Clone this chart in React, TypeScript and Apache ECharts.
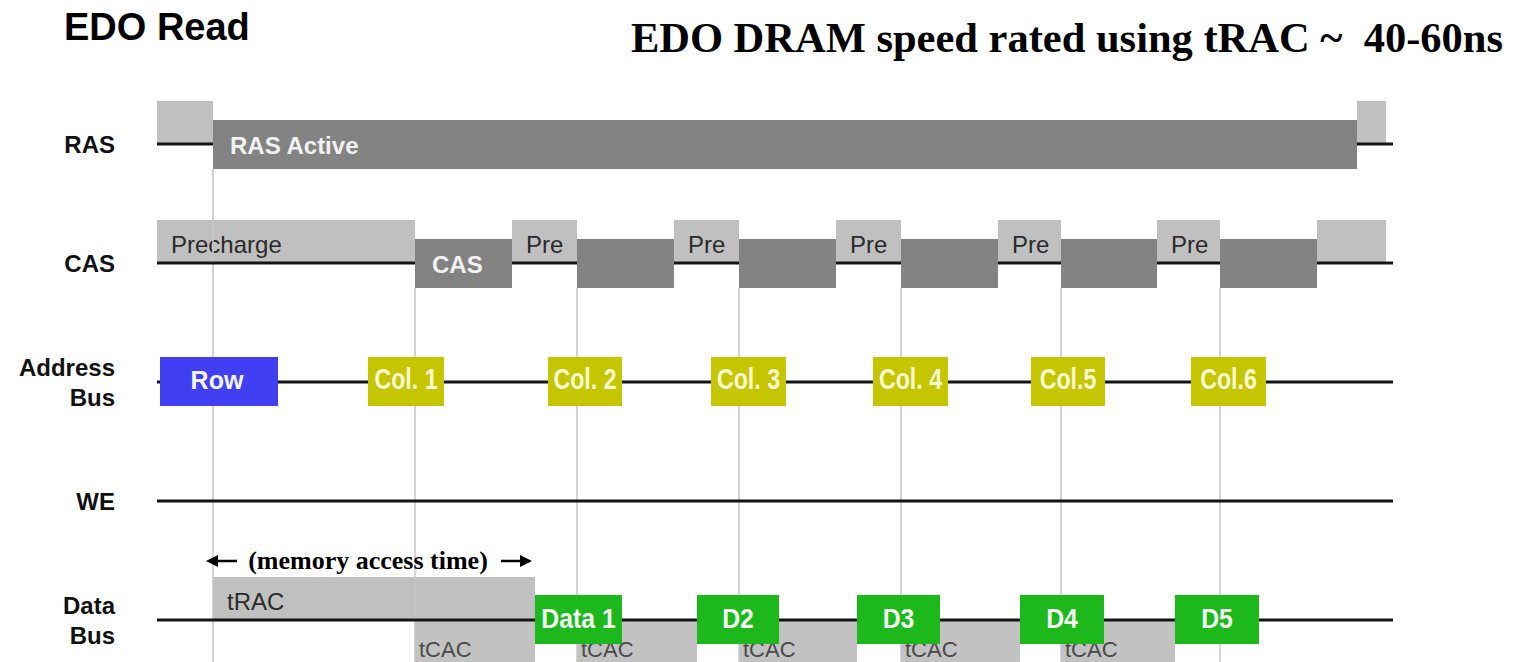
import React, { useEffect, useRef } from "react";
import * as echarts from "echarts";

// Signal rows (top to bottom)
const SIGNALS = ["RAS", "CAS", "Address\nBus", "WE", "Data\nBus"];
// time span of the diagram (arbitrary time units)
const T_END = 1236;

// [start, end, level, label]
const RAS_SEGMENTS: [number, number, string, string][] = [
  [0, 56, "high", ""],
  [56, 1200, "low", "RAS Active"],
  [1200, 1229, "high", ""],
];
const CAS_SEGMENTS: [number, number, string, string][] = [
  [0, 258, "high", "Precharge"],
  [258, 355, "low", "CAS"],
  [355, 420, "high", "Pre"],
  [420, 517, "low", ""],
  [517, 582, "high", "Pre"],
  [582, 679, "low", ""],
  [679, 744, "high", "Pre"],
  [744, 841, "low", ""],
  [841, 904, "high", "Pre"],
  [904, 1000, "low", ""],
  [1000, 1063, "high", "Pre"],
  [1063, 1160, "low", ""],
  [1160, 1229, "high", ""],
];
// [start, end, label]
const ADDRESS_ROW: [number, number, string][] = [[3, 121, "Row"]];
const ADDRESS_COLS: [number, number, string][] = [
  [211, 287, "Col. 1"],
  [391, 465, "Col. 2"],
  [554, 629, "Col. 3"],
  [716, 791, "Col. 4"],
  [874, 948, "Col.5"],
  [1034, 1109, "Col.6"],
];
const DATA_TRAC: [number, number, string][] = [[56, 378, "tRAC"]];
const DATA_TCAC: [number, number, string][] = [
  [258, 378, "tCAC"],
  [420, 540, "tCAC"],
  [582, 700, "tCAC"],
  [744, 863, "tCAC"],
  [904, 1018, "tCAC"],
];
const DATA_WORDS: [number, number, string][] = [
  [378, 465, "Data 1"],
  [540, 622, "D2"],
  [700, 783, "D3"],
  [863, 947, "D4"],
  [1018, 1102, "D5"],
];
// [time, row the guide starts below]
const GUIDES: [number, number][] = [
  [56, 0],
  [258, 1],
  [420, 1],
  [582, 1],
  [744, 1],
  [904, 1],
  [1063, 1],
];
// [start, end, row, text]
const NOTES: [number, number, number, string][] = [[56, 378, 4, "(memory access time)"]];

type Mark = { row: number; t0: number; t1: number; kind: string; label: string };

const SANS = "'Liberation Sans', Arial, sans-serif";
const SERIF = "'Liberation Serif', 'Times New Roman', serif";

const COLORS: Record<string, string> = {
  high: "#c0c0c0",
  below: "#c2c2c2",
  low: "#838383",
  addrRow: "#4040f2",
  addrCol: "#c6c600",
  data: "#1cb81c",
};

function buildMarks(): { light: Mark[]; dark: Mark[] } {
  const light: Mark[] = [];
  const dark: Mark[] = [];
  const push = (row: number, t0: number, t1: number, kind: string, label: string) => {
    const m = { row, t0, t1, kind, label };
    if (kind === "high" || kind === "below") light.push(m);
    else dark.push(m);
  };
  RAS_SEGMENTS.forEach(([a, b, k, l]) => push(0, a, b, k, l));
  CAS_SEGMENTS.forEach(([a, b, k, l]) => push(1, a, b, k, l));
  ADDRESS_ROW.forEach(([a, b, l]) => push(2, a, b, "addrRow", l));
  ADDRESS_COLS.forEach(([a, b, l]) => push(2, a, b, "addrCol", l));
  DATA_TRAC.forEach(([a, b, l]) => push(4, a, b, "high", l));
  DATA_TCAC.forEach(([a, b, l]) => push(4, a, b, "below", l));
  DATA_WORDS.forEach(([a, b, l]) => push(4, a, b, "data", l));
  return { light, dark };
}

function markRender(list: Mark[]) {
  return (params: any, api: any) => {
    const m = list[params.dataIndex];
    const [x0, y] = api.coord([m.t0, m.row]);
    const [x1] = api.coord([m.t1, m.row]);
    const w = x1 - x0;
    let top = y - 24;
    let h = 49;
    if (m.kind === "high") {
      top = y - 43;
      h = 43;
    } else if (m.kind === "below") {
      top = y;
      h = 46;
    } else if (m.kind !== "low") {
      top = y - 25;
      h = 49;
    }
    const children: any[] = [
      { type: "rect", shape: { x: x0, y: top, width: w, height: h }, style: { fill: COLORS[m.kind] } },
    ];
    if (m.label) {
      let px = x0;
      let py = y;
      let sx = 1;
      let style: any;
      if (m.kind === "high") {
        px = x0 + 14;
        py = y - 19;
        style = { fill: "#2b2b2b", fontSize: 24, fontFamily: SANS, align: "left" };
      } else if (m.kind === "below") {
        px = x0 + 4;
        py = y + 29;
        style = { fill: "#4a4a4a", fontSize: 22, fontFamily: SANS, align: "left" };
      } else if (m.kind === "low") {
        px = x0 + 17;
        py = y + 1;
        style = { fill: "#f2f2f2", fontSize: 24, fontWeight: "bold", fontFamily: SANS, align: "left" };
      } else if (m.kind === "addrRow") {
        px = x0 + w / 2 - 2;
        py = y - 2;
        style = { fill: "#f4f4ff", fontSize: 25, fontWeight: "bold", fontFamily: SANS, align: "center" };
      } else if (m.kind === "addrCol") {
        px = x0 + w / 2;
        py = y - 3;
        sx = 0.8;
        style = { fill: "#fafad2", fontSize: 29, fontWeight: "bold", fontFamily: SANS, align: "center" };
      } else {
        px = x0 + w / 2;
        py = y - 1;
        sx = 0.92;
        style = { fill: "#f4fff4", fontSize: 27, fontWeight: "bold", fontFamily: SANS, align: "center" };
      }
      children.push({
        type: "text",
        x: px,
        y: py,
        scaleX: sx,
        style: { text: m.label, x: 0, y: 0, verticalAlign: "middle", ...style },
      });
    }
    return { type: "group", children };
  };
}

function arrowHead(x: number, y: number, dir: number) {
  // filled triangular head pointing in direction dir (-1 left, +1 right)
  return {
    type: "polygon",
    shape: {
      points: [
        [x, y],
        [x - dir * 12, y - 6],
        [x - dir * 12, y + 6],
      ],
    },
    style: { fill: "#000" },
  };
}

export default function App() {
  const ref = useRef<HTMLDivElement>(null);
  useEffect(() => {
    if (!ref.current) return;
    const chart = echarts.init(ref.current, undefined, { renderer: "svg" });
    const { light, dark } = buildMarks();
    const option: any = {
      animation: false,
      backgroundColor: "#ffffff",
      title: [
        {
          text: "EDO Read",
          left: 64,
          top: 8,
          padding: 0,
          textStyle: { fontFamily: SANS, fontWeight: "bold", fontSize: 38, color: "#000" },
        },
        {
          text: "EDO DRAM speed rated using tRAC ~  40-60ns",
          right: 13,
          top: 16,
          padding: 0,
          textStyle: { fontFamily: SERIF, fontWeight: "bold", fontSize: 42.5, color: "#000" },
        },
      ],
      grid: { left: 157, right: 123, top: 144, bottom: 42, containLabel: false },
      xAxis: { type: "value", min: 0, max: T_END, show: false },
      yAxis: {
        type: "category",
        data: SIGNALS,
        inverse: true,
        boundaryGap: false,
        axisLine: { show: false },
        axisTick: { show: false },
        splitLine: { show: false },
        axisLabel: {
          margin: 42,
          fontFamily: SANS,
          fontWeight: "bold",
          fontSize: 24,
          lineHeight: 30,
          color: "#111",
          align: "right",
        },
      },
      series: [
        {
          type: "custom",
          name: "light",
          z: 1,
          silent: true,
          data: light.map((m) => [m.t0, m.t1, m.row]),
          encode: { x: [0, 1], y: 2 },
          renderItem: markRender(light),
        },
        {
          type: "custom",
          name: "guides",
          z: 2,
          silent: true,
          data: GUIDES.map(([t, r]) => [t, r]),
          encode: { x: 0, y: 1 },
          renderItem: (params: any, api: any) => {
            const [t, r] = GUIDES[params.dataIndex];
            const [x, y] = api.coord([t, r]);
            const [, yEnd] = api.coord([t, SIGNALS.length - 1]);
            return {
              type: "line",
              shape: { x1: x, y1: y + 25, x2: x, y2: yEnd + 60 },
              style: { stroke: "#c6c6c6", lineWidth: 1.5 },
            };
          },
        },
        {
          type: "custom",
          name: "baselines",
          z: 3,
          silent: true,
          data: SIGNALS.map((_, i) => [0, T_END, i]),
          encode: { x: [0, 1], y: 2 },
          renderItem: (params: any, api: any) => {
            const [x0, y] = api.coord([api.value(0), api.value(2)]);
            const [x1] = api.coord([api.value(1), api.value(2)]);
            return {
              type: "line",
              shape: { x1: x0, y1: y, x2: x1, y2: y },
              style: { stroke: "#141414", lineWidth: 3 },
            };
          },
        },
        {
          type: "custom",
          name: "dark",
          z: 4,
          silent: true,
          data: dark.map((m) => [m.t0, m.t1, m.row]),
          encode: { x: [0, 1], y: 2 },
          renderItem: markRender(dark),
        },
        {
          type: "custom",
          name: "notes",
          z: 5,
          silent: true,
          data: NOTES.map(([a, b, r]) => [a, b, r]),
          encode: { x: [0, 1], y: 2 },
          renderItem: (params: any, api: any) => {
            const [a, b, r, text] = NOTES[params.dataIndex];
            const [x0, y] = api.coord([a, r]);
            const [x1] = api.coord([b, r]);
            const yy = y - 60;
            const lx = x0 - 7;
            const rx = x1 - 3;
            return {
              type: "group",
              children: [
                {
                  type: "text",
                  x: (x0 + x1) / 2 - 6,
                  y: yy,
                  style: {
                    text,
                    x: 0,
                    y: 0,
                    align: "center",
                    verticalAlign: "middle",
                    fontFamily: SERIF,
                    fontWeight: "bold",
                    fontSize: 26,
                    fill: "#000",
                  },
                },
                { type: "line", shape: { x1: lx + 8, y1: yy + 1, x2: lx + 31, y2: yy + 1 }, style: { stroke: "#000", lineWidth: 2.5 } },
                arrowHead(lx, yy + 1, -1),
                { type: "line", shape: { x1: rx - 31, y1: yy + 1, x2: rx - 8, y2: yy + 1 }, style: { stroke: "#000", lineWidth: 2.5 } },
                arrowHead(rx, yy + 1, 1),
              ],
            };
          },
        },
      ],
    };
    chart.setOption(option);
    return () => chart.dispose();
  }, []);
  return (
    <div
      ref={ref}
      style={{ position: "absolute", left: 0, top: 0, width: 1516, height: 662, background: "#fff" }}
    />
  );
}
